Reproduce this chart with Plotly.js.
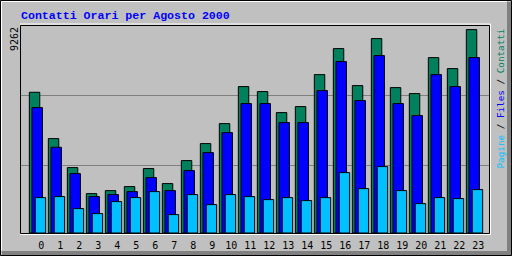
<!DOCTYPE html>
<html>
<head>
<meta charset="utf-8">
<script src="https://cdn.plot.ly/plotly-3.0.1.min.js"></script>
<style>
  html, body { margin: 0; padding: 0; background: #c0c0c0; }
  #chart { width: 512px; height: 256px; }
</style>
</head>
<body>
<div id="chart"></div>
<script>
// Hourly traffic for August 2000
const hours = [0, 1, 2, 3, 4, 5, 6, 7, 8, 9, 10, 11, 12, 13, 14, 15, 16, 17, 18, 19, 20, 21, 22, 23];
const hourLabels = hours.map(String);
const contatti = [6408, 4299, 2978, 1794, 1931, 2113, 2933, 2250, 3297, 4071, 4982, 6667,
                  6439, 5483, 5756, 7213, 8397, 6712, 8853, 6621, 6348, 7987, 7486, 9262];
const files    = [5711, 3903, 2705, 1658, 1749, 1885, 2523, 1931, 2842, 3661, 4572, 5893,
                  5893, 5028, 5028, 6485, 7806, 6030, 8079, 5893, 5346, 7213, 6667, 7988];
const pagine   = [1612, 1658, 1111, 883, 1430, 1612, 1885, 838, 1749, 1293, 1749, 1658,
                  1521, 1612, 1476, 1612, 2751, 2022, 3024, 1931, 1339, 1612, 1567, 1977];
const maxLabel = '9262';
const gridValues = [3070, 6260];
const yMax = 9472;

// plot box in page pixels
const L = 20, R = 490, T = 25, B = 233;
const W = 512, H = 256;
const px = X => (X - L) / (R - L);
const py = Y => (B - Y) / (B - T);

const green = '#00805c', blue = '#0000ff', cyan = '#00c0ff';
const outline = { color: '#000000', width: 1 };

const traces = [
  { name: 'Contatti', y: contatti, color: green, offset: -0.63 },
  { name: 'Files',    y: files,    color: blue,  offset: -0.49 },
  { name: 'Pagine',   y: pagine,   color: cyan,  offset: -0.32 }
].map(s => ({
  type: 'bar',
  x: hours,
  y: s.y,
  name: s.name,
  offset: s.offset,
  width: 0.55,
  marker: { color: s.color, line: outline },
  hoverinfo: 'skip'
}));

function line(x0, y0, x1, y1, color) {
  return { type: 'line', xref: 'paper', yref: 'paper',
           x0: px(x0), y0: py(y0), x1: px(x1), y1: py(y1),
           line: { color: color, width: 1 } };
}
function box(x0, y0, x1, y1, fill) {
  return { type: 'rect', xref: 'paper', yref: 'paper',
           x0: px(x0), y0: py(y0), x1: px(x1), y1: py(y1),
           fillcolor: fill, line: { width: 0 } };
}

const shapes = [
  // raised outer frame
  box(507, 2, 511, 255, '#808080'),
  box(2, 251, 511, 255, '#808080'),
  line(0.5, 0.5, 511.5, 0.5, '#000000'),
  line(0.5, 0.5, 0.5, 255.5, '#000000'),
  line(511.5, 0.5, 511.5, 255.5, '#000000'),
  line(0.5, 255.5, 511.5, 255.5, '#000000'),
  line(1.5, 1.5, 506.5, 1.5, '#ffffff'),
  line(1.5, 1.5, 1.5, 250.5, '#ffffff'),
  // plot frame
  line(20, 24, 490.5, 24, '#ffffff'),
  line(490.5, 24, 490.5, 234.5, '#ffffff'),
  line(20, 234.5, 490.5, 234.5, '#ffffff'),
  line(20.5, 25.5, 489.5, 25.5, '#000000'),
  line(20.5, 25.5, 20.5, 233.5, '#000000'),
  line(489.5, 25.5, 489.5, 233.5, '#000000'),
  line(20.5, 233.5, 489.5, 233.5, '#000000')
];

const mono = 'DejaVu Sans Mono, Liberation Mono, monospace';

const annotations = [
  {
    xref: 'paper', yref: 'paper', x: px(19), y: py(15.5),
    xanchor: 'left', yanchor: 'middle', showarrow: false,
    text: '<b>Contatti Orari per Agosto 2000</b>',
    font: { family: 'Liberation Mono, DejaVu Sans Mono, monospace', size: 11.6, color: blue }
  },
  {
    xref: 'paper', yref: 'paper', x: px(14.5), y: py(39.5),
    xanchor: 'center', yanchor: 'middle', showarrow: false, textangle: -90,
    text: maxLabel,
    font: { family: mono, size: 10, color: '#000000' }
  },
  {
    xref: 'paper', yref: 'paper', x: px(500), y: py(98.5),
    xanchor: 'center', yanchor: 'middle', showarrow: false, textangle: -90,
    text: '<span style="color:' + cyan + '">Pagine</span> / ' +
          '<span style="color:' + blue + '">Files</span> / ' +
          '<span style="color:' + green + '">Contatti</span>',
    font: { family: mono, size: 9.3, color: '#000000' }
  }
];

const unit = 19;
const x0 = -(41.3 - L) / unit;
const x1 = x0 + (R - L) / unit;

const layout = {
  width: W, height: H,
  margin: { l: L, r: W - R, t: T, b: H - B, pad: 0 },
  paper_bgcolor: '#c0c0c0',
  plot_bgcolor: '#c0c0c0',
  barmode: 'overlay',
  showlegend: false,
  xaxis: {
    range: [x0, x1], fixedrange: true,
    tickvals: hours, ticktext: hourLabels,
    showgrid: false, zeroline: false, showline: false, ticks: '',
    ticklabelstandoff: 5,
    tickfont: { family: mono, size: 10, color: '#000000' }
  },
  yaxis: {
    range: [0, yMax], fixedrange: true,
    tickvals: gridValues, showticklabels: false,
    showgrid: true, gridcolor: '#808080', gridwidth: 1,
    zeroline: false, showline: false, ticks: ''
  },
  shapes: shapes,
  annotations: annotations
};

Plotly.newPlot('chart', traces, layout, { displayModeBar: false, staticPlot: true });
</script>
</body>
</html>
